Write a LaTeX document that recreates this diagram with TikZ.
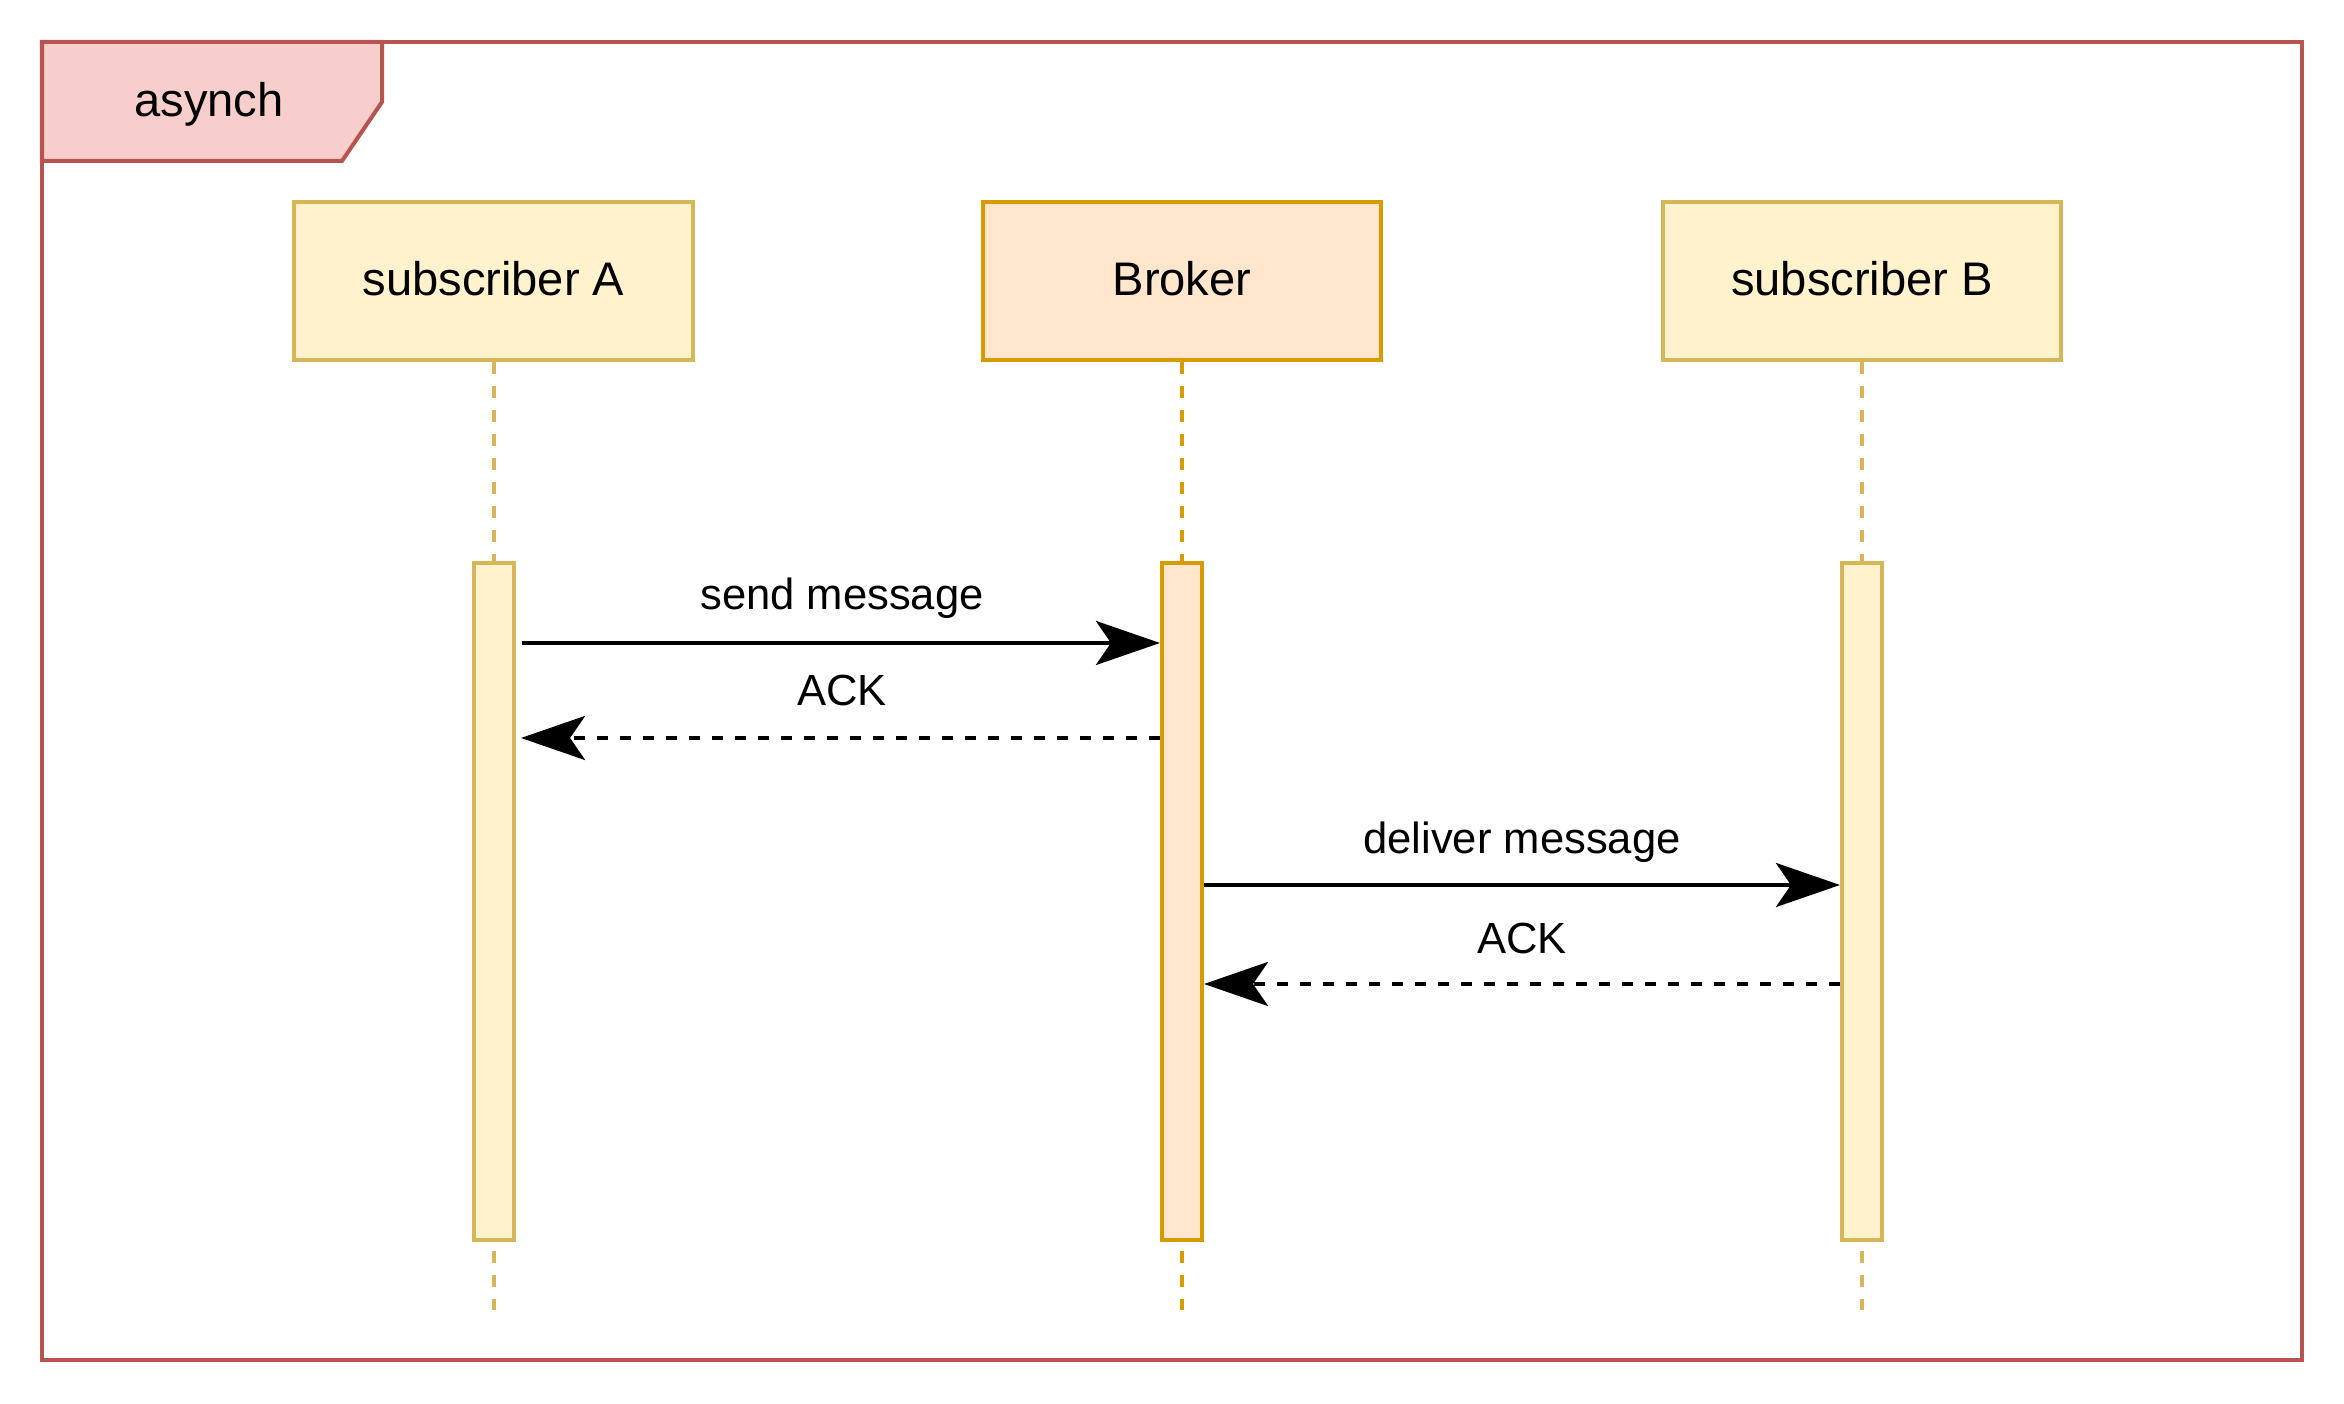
\documentclass[tikz,border=0pt]{standalone}
\usepackage{fontspec}
\setmainfont{Liberation Sans}
\usetikzlibrary{arrows.meta}
\definecolor{tabfill}{HTML}{F8CECC}
\definecolor{tabdraw}{HTML}{B85450}
\definecolor{subfill}{HTML}{FFF2CC}
\definecolor{subdraw}{HTML}{D6B656}
\definecolor{brkfill}{HTML}{FFE6CC}
\definecolor{brkdraw}{HTML}{D79B00}
\tikzset{
  lbl/.style={font=\fontsize{13.4}{16}\selectfont, inner sep=0pt},
  msglbl/.style={font=\fontsize{12.4}{15}\selectfont, inner sep=0pt},
  partbox/.style={draw, line width=0.04cm, minimum width=3.98cm, minimum height=1.58cm, inner sep=0pt, font=\fontsize{13.4}{16}\selectfont},
  actbar/.style={draw, line width=0.04cm, minimum width=0.40cm, minimum height=6.77cm, inner sep=0pt},
  lifeline/.style={line width=0.04cm, dash pattern=on 0.12cm off 0.12cm},
  msg/.style={line width=0.04cm, -{Stealth[length=0.64cm, width=0.44cm, inset=0.15cm]}},
  reply/.style={msg, dash pattern=on 0.11cm off 0.12cm},
}
\begin{document}
\begin{tikzpicture}[x=0.01cm, y=-0.01cm]
\useasboundingbox (0,0) rectangle (2344,1404);
% frame
\draw[tabdraw, line width=0.04cm] (42,42) rectangle (2302,1360);
\draw[tabdraw, fill=tabfill, line width=0.04cm, line join=miter] (42,42) -- (382,42) -- (382,102) -- (342,161) -- (42,161) -- cycle;
\node[lbl] (title) at (209,104) {asynch};
% participants
\node[partbox, draw=subdraw, fill=subfill] (pA) at (493.5,281) {\raisebox{0.05cm}{subscriber A}};
\node[partbox, draw=brkdraw, fill=brkfill] (pB) at (1182,281) {\raisebox{0.05cm}{Broker}};
\node[partbox, draw=subdraw, fill=subfill] (pC) at (1862,281) {\raisebox{0.05cm}{subscriber B}};
% lifeline ends
\coordinate (endA) at (493.5,1310);
\coordinate (endB) at (1182,1310);
\coordinate (endC) at (1862,1310);
\draw[lifeline, subdraw] (pA.south) -- (endA);
\draw[lifeline, brkdraw] (pB.south) -- (endB);
\draw[lifeline, subdraw] (pC.south) -- (endC);
% activation bars
\node[actbar, draw=subdraw, fill=subfill] (aA) at (494,901.5) {};
\node[actbar, draw=brkdraw, fill=brkfill] (aB) at (1182,901.5) {};
\node[actbar, draw=subdraw, fill=subfill] (aC) at (1862,901.5) {};
% message anchors
\coordinate (m1s) at (522,643);
\coordinate (m1e) at (aB.west |- 0,643);
\coordinate (m2s) at (aB.west |- 0,738);
\coordinate (m2e) at (521,738);
\coordinate (m3s) at (aB.east |- 0,885);
\coordinate (m3e) at (aC.west |- 0,885);
\coordinate (m4s) at (aC.west |- 0,984);
\coordinate (m4e) at (aB.east |- 0,984);
\draw[msg] (m1s) -- (m1e);
\draw[reply] (m2s) -- (m2e);
\draw[msg] (m3s) -- (m3e);
\draw[reply] (m4s) -- (m4e);
\node[msglbl] (l1) at (842,598) {send message};
\node[msglbl] (l2) at (842,690) {ACK};
\node[msglbl] (l3) at (1522,842) {deliver message};
\node[msglbl] (l4) at (1522,938) {ACK};
\end{tikzpicture}
\end{document}
